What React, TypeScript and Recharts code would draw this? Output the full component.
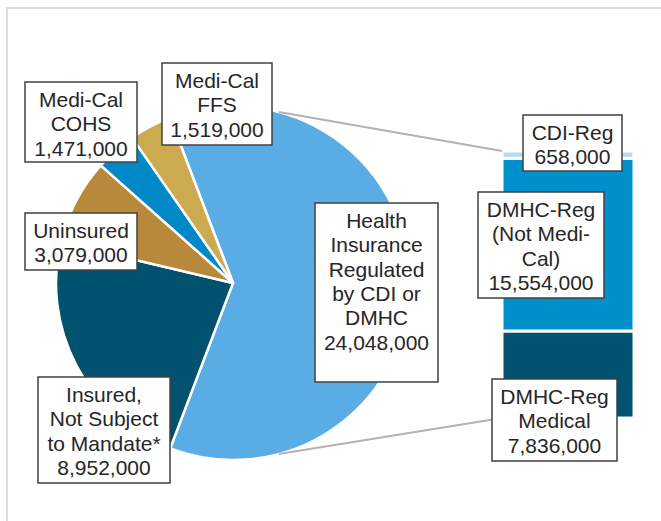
import React from 'react';
import { PieChart, Pie, Cell, BarChart, Bar, XAxis, YAxis, LabelList } from 'recharts';

// pie slices (clockwise, the first one is split out into the bar)
const pieNames = [
  'Health Insurance Regulated by CDI or DMHC',
  'Insured, Not Subject to Mandate*',
  'Uninsured',
  'Medi-Cal COHS',
  'Medi-Cal FFS',
];
const pieValues = [24048000, 8952000, 3079000, 1471000, 1519000];
const pieLabelLines = [
  ['Health', 'Insurance', 'Regulated', 'by CDI or', 'DMHC'],
  ['Insured,', 'Not Subject', 'to Mandate*'],
  ['Uninsured'],
  ['Medi-Cal', 'COHS'],
  ['Medi-Cal', 'FFS'],
];

// stacked bar, bottom to top
const barNames = ['DMHC-Reg Medical', 'DMHC-Reg (Not Medi-Cal)', 'CDI-Reg'];
const barKeys = ['medical', 'notMediCal', 'cdi'];
const barValues = [7836000, 15554000, 658000];
const barLabelLines = [['DMHC-Reg', 'Medical'], ['DMHC-Reg', '(Not Medi-', 'Cal)'], ['CDI-Reg']];

const pieColors = ['#5aade4', '#00526e', '#b8893a', '#0088c7', '#ccab50'];
const barColors = ['#00526e', '#0090cc', '#b4dcf2'];

const W = 661;
const H = 521;
const PIE_CX = 233;
const PIE_CY = 283;
const PIE_R = 177;
const SERIES_LINE_ANGLE = 75;
const FONT = "'Liberation Sans', Arial, sans-serif";

type Box = { x: number; y: number; w: number; h: number };

// manually placed label boxes, like the original
const pieBoxes: Box[] = [
  { x: 315, y: 203, w: 123, h: 179 },
  { x: 38, y: 377, w: 132, h: 106 },
  { x: 25, y: 213, w: 112, h: 57 },
  { x: 25, y: 82, w: 112, h: 80 },
  { x: 162, y: 63, w: 110, h: 82 },
];
const barBoxes: Box[] = [
  { x: 492, y: 379, w: 125, h: 82 },
  { x: 478, y: 192, w: 126, h: 106 },
  { x: 523, y: 115, w: 99, h: 56 },
];

const fmt = (v: number) => v.toLocaleString('en-US');

const LabelBox = ({ box, lines }: { box: Box; lines: string[] }) => {
  const cx = box.x + box.w / 2;
  return (
    <g>
      <rect x={box.x} y={box.y} width={box.w} height={box.h} fill="#fff" stroke="#404040" strokeWidth={1.5} />
      <text textAnchor="middle" fontSize={21} fill="#262626" fontFamily={FONT}>
        {lines.map((l, i) => (
          <tspan key={i} x={cx} y={box.y + 25 + i * 24.3}>
            {l}
          </tspan>
        ))}
      </text>
    </g>
  );
};

const pieData = pieNames.map((name, i) => ({ name, value: pieValues[i] }));
const pieTotal = pieValues.reduce((a, b) => a + b, 0);
// the split-out slice is centred on the right-hand side
const startAngle = (pieValues[0] / pieTotal) * 180;

const barData = [
  barKeys.reduce((row: Record<string, any>, k, i) => ({ ...row, [k]: barValues[i] }), { name: 'regulated' }),
];
const barTotal = barValues.reduce((a, b) => a + b, 0);

const seriesPoint = (sign: number) => {
  const a = (SERIES_LINE_ANGLE * Math.PI) / 180;
  return { x: PIE_CX + PIE_R * Math.cos(a), y: PIE_CY - sign * PIE_R * Math.sin(a) };
};

const renderPieLabel = (props: any) => {
  const i = props.index ?? pieNames.indexOf(props.name);
  return <LabelBox box={pieBoxes[i]} lines={[...pieLabelLines[i], fmt(pieValues[i])]} />;
};

const barShape = (i: number) => (props: any) => {
  const { x, y, width, height, fill } = props;
  let line = null;
  if (i === barKeys.length - 1) {
    const p = seriesPoint(1);
    line = <line x1={p.x} y1={p.y} x2={x} y2={y} stroke="#b8b0b3" strokeWidth={2} />;
  } else if (i === 0) {
    const p = seriesPoint(-1);
    line = <line x1={p.x} y1={p.y} x2={x} y2={y + height} stroke="#b8b0b3" strokeWidth={2} />;
  }
  return (
    <g>
      <rect x={x} y={y} width={width} height={height} fill={fill} stroke="#fff" strokeWidth={3} />
      {line}
    </g>
  );
};

const barLabel = (i: number) => () => (
  <LabelBox box={barBoxes[i]} lines={[...barLabelLines[i], fmt(barValues[i])]} />
);

export default function App() {
  return (
    <div style={{ position: 'absolute', left: 0, top: 0, width: W, height: H, overflow: 'hidden', background: '#fff' }}>
      <div
        style={{
          position: 'absolute',
          left: 6,
          top: 7,
          width: W + 20,
          height: H + 20,
          borderTop: '2px solid #dadada',
          borderLeft: '2px solid #dadada',
        }}
      />
      <div style={{ position: 'absolute', left: 0, top: 0 }}>
        <PieChart width={W} height={H} margin={{ top: 0, right: 0, bottom: 0, left: 0 }}>
          <Pie
            data={pieData}
            dataKey="value"
            nameKey="name"
            cx={PIE_CX}
            cy={PIE_CY}
            outerRadius={PIE_R}
            startAngle={startAngle}
            endAngle={startAngle - 360}
            stroke="#fff"
            strokeWidth={2.5}
            labelLine={false}
            label={renderPieLabel}
            isAnimationActive={false}
          >
            {pieData.map((d, i) => (
              <Cell key={d.name} fill={pieColors[i]} />
            ))}
          </Pie>
        </PieChart>
      </div>
      <div style={{ position: 'absolute', left: 0, top: 0 }}>
        <BarChart
          width={W}
          height={H}
          data={barData}
          margin={{ top: 151, right: 27, bottom: 103, left: 502 }}
          barCategoryGap={0}
        >
          <XAxis dataKey="name" hide />
          <YAxis hide domain={[0, barTotal]} />
          {barKeys.map((k, i) => (
            <Bar
              key={k}
              dataKey={k}
              name={barNames[i]}
              stackId="reg"
              fill={barColors[i]}
              shape={barShape(i)}
              isAnimationActive={false}
            >
              <LabelList dataKey={k} content={barLabel(i)} />
            </Bar>
          ))}
        </BarChart>
      </div>
    </div>
  );
}
